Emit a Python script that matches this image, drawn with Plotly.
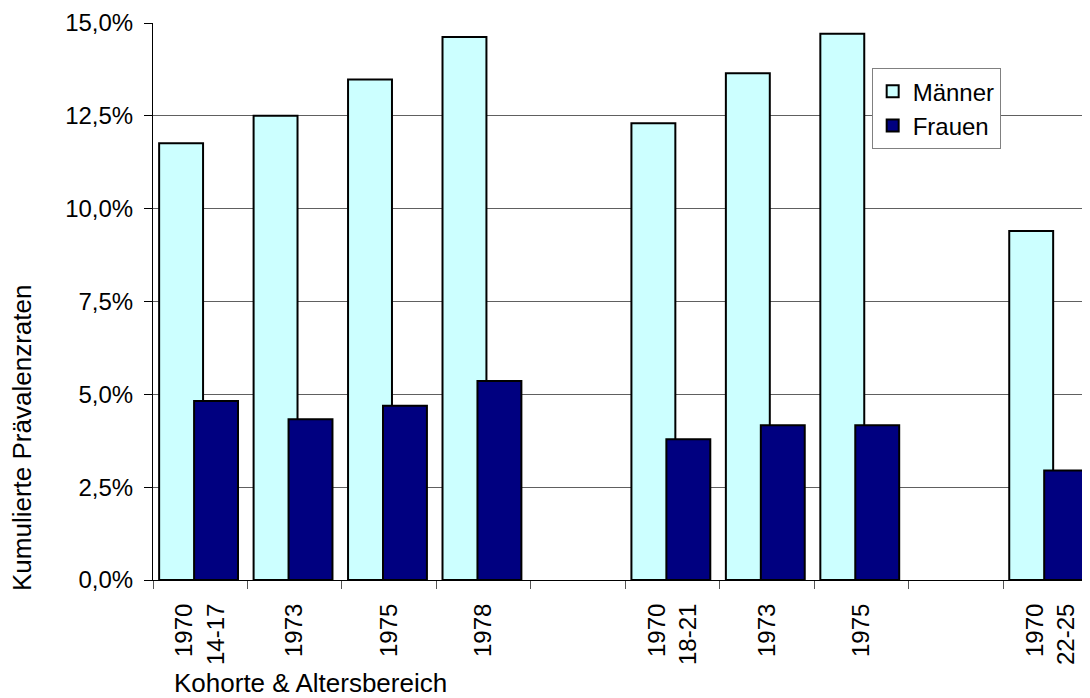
import plotly.graph_objects as go

# categories (empty strings = gaps between age groups)
labels = ["1970<br>14-17", "1973", "1975", "1978", "",
          "1970<br>18-21", "1973", "1975", "",
          "1970<br>22-25"]

maenner = [11.76, 12.5, 13.48, 14.62, None, 12.3, 13.65, 14.71, None, 9.4]
frauen = [4.82, 4.33, 4.69, 5.36, None, 3.79, 4.17, 4.17, None, 2.95]

y_ticks = [0, 2.5, 5, 7.5, 10, 12.5, 15]
y_ticktext = ["0,0%", "2,5%", "5,0%", "7,5%", "10,0%", "12,5%", "15,0%"]

FONT = "Liberation Sans, Arial, sans-serif"
pos = list(range(len(labels)))

fig = go.Figure()
fig.add_trace(go.Bar(x=pos, y=maenner, name="Männer",
                     marker=dict(color="#CCFFFF", line=dict(color="black", width=2)),
                     width=0.465, offset=-0.435))
fig.add_trace(go.Bar(x=pos, y=frauen, name="Frauen",
                     marker=dict(color="#000080", line=dict(color="black", width=2)),
                     width=0.465, offset=-0.065))

# page body has an 8px margin, so the figure is a bit smaller than the window
fig.update_layout(
    width=1082, height=690,
    margin=dict(l=145, r=0, t=15, b=118),
    barmode="overlay",
    plot_bgcolor="white", paper_bgcolor="white",
    font=dict(family=FONT, size=24, color="black"),
    showlegend=True,
    legend=dict(x=0.767, y=0.919, xanchor="left", yanchor="top",
                bgcolor="white", bordercolor="#808080", borderwidth=1,
                font=dict(size=24), tracegroupgap=0),
)

fig.update_xaxes(
    range=[-0.5, 9.42],
    tickmode="array", tickvals=pos, ticktext=labels,
    tickangle=-90, ticks="outside", ticklen=13, tickcolor="rgba(0,0,0,0)",
    showline=True, linecolor="black", linewidth=1,
    showgrid=False, zeroline=False,
    minor=dict(tickmode="array", tickvals=[p - 0.5 for p in pos],
               ticks="outside", ticklen=8, tickcolor="#555", tickwidth=1, showgrid=False),
)
fig.update_yaxes(
    range=[0, 15],
    tickmode="array", tickvals=y_ticks, ticktext=y_ticktext,
    ticks="outside", ticklen=8, tickcolor="black",
    showline=True, linecolor="black", linewidth=1,
    showgrid=True, gridcolor="#606060", gridwidth=1,
    zeroline=False, ticklabelstandoff=6,
)

fig.add_annotation(text="Kumulierte Prävalenzraten", textangle=-90,
                   xref="paper", yref="paper", x=-0.1398, y=0.255,
                   xanchor="center", yanchor="middle", showarrow=False,
                   font=dict(size=26))
fig.add_annotation(text="Kohorte & Altersbereich",
                   xref="paper", yref="paper", x=0.0203, y=-0.185,
                   xanchor="left", yanchor="middle", showarrow=False,
                   font=dict(size=26))

fig.write_html("out.html")
